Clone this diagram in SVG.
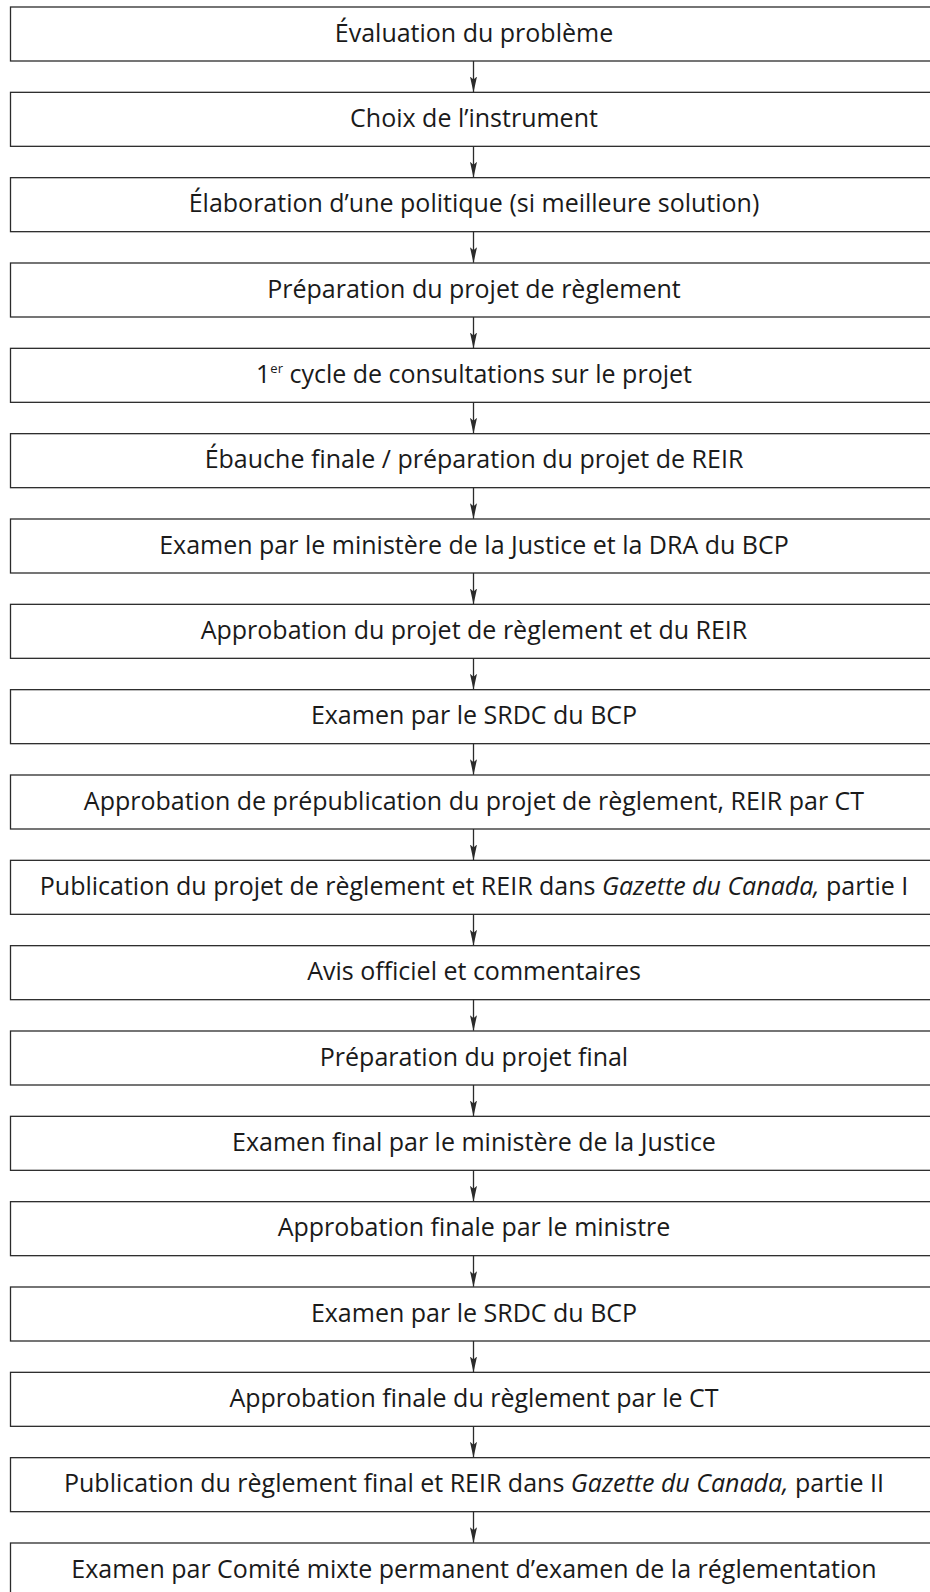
<svg xmlns="http://www.w3.org/2000/svg" width="930" height="1592" viewBox="0 0 930 1592">
<style>
.box{fill:#fff;stroke:#2b2b2b;stroke-width:1.3}
.t{font-family:"Open Sans","Noto Sans",sans-serif;font-size:25px;fill:#1a1a1a;text-anchor:middle}
.c{stroke:#2b2b2b;stroke-width:1.3;fill:none}
</style>
<defs>
<marker id="ah" viewBox="0 0 16 8" refX="15.5" refY="4" markerWidth="16" markerHeight="8" markerUnits="userSpaceOnUse" orient="auto">
<path d="M0,0.5 L3,4 L0,7.5 L16,4 Z" fill="#2b2b2b"/>
</marker>
</defs>
<rect width="930" height="1592" fill="#fff"/>
<g id="n1"><rect class="box" x="10.5" y="7" width="930" height="54"/><text class="t" x="474" y="41.5">Évaluation du problème</text></g>
<g id="n2"><rect class="box" x="10.5" y="92.33" width="930" height="54"/><text class="t" x="474" y="126.83">Choix de l’instrument</text></g>
<g id="n3"><rect class="box" x="10.5" y="177.67" width="930" height="54"/><text class="t" x="474" y="212.17">Élaboration d’une politique (si meilleure solution)</text></g>
<g id="n4"><rect class="box" x="10.5" y="263" width="930" height="54"/><text class="t" x="474" y="297.5">Préparation du projet de règlement</text></g>
<g id="n5"><rect class="box" x="10.5" y="348.33" width="930" height="54"/><text class="t" x="474" y="382.83">1<tspan font-size="13" dy="-10">er</tspan><tspan dy="10"> cycle de consultations sur le projet</tspan></text></g>
<g id="n6"><rect class="box" x="10.5" y="433.67" width="930" height="54"/><text class="t" x="474" y="468.17">Ébauche finale / préparation du projet de REIR</text></g>
<g id="n7"><rect class="box" x="10.5" y="519" width="930" height="54"/><text class="t" x="474" y="553.5">Examen par le ministère de la Justice et la DRA du BCP</text></g>
<g id="n8"><rect class="box" x="10.5" y="604.33" width="930" height="54"/><text class="t" x="474" y="638.83">Approbation du projet de règlement et du REIR</text></g>
<g id="n9"><rect class="box" x="10.5" y="689.67" width="930" height="54"/><text class="t" x="474" y="724.17">Examen par le SRDC du BCP</text></g>
<g id="n10"><rect class="box" x="10.5" y="775" width="930" height="54"/><text class="t" x="474" y="809.5">Approbation de prépublication du projet de règlement, REIR par CT</text></g>
<g id="n11"><rect class="box" x="10.5" y="860.33" width="930" height="54"/><text class="t" x="474" y="894.83">Publication du projet de règlement et REIR dans <tspan font-style="italic">Gazette du Canada,</tspan> partie I</text></g>
<g id="n12"><rect class="box" x="10.5" y="945.67" width="930" height="54"/><text class="t" x="474" y="980.17">Avis officiel et commentaires</text></g>
<g id="n13"><rect class="box" x="10.5" y="1031" width="930" height="54"/><text class="t" x="474" y="1065.5">Préparation du projet final</text></g>
<g id="n14"><rect class="box" x="10.5" y="1116.33" width="930" height="54"/><text class="t" x="474" y="1150.83">Examen final par le ministère de la Justice</text></g>
<g id="n15"><rect class="box" x="10.5" y="1201.67" width="930" height="54"/><text class="t" x="474" y="1236.17">Approbation finale par le ministre</text></g>
<g id="n16"><rect class="box" x="10.5" y="1287" width="930" height="54"/><text class="t" x="474" y="1321.5">Examen par le SRDC du BCP</text></g>
<g id="n17"><rect class="box" x="10.5" y="1372.33" width="930" height="54"/><text class="t" x="474" y="1406.83">Approbation finale du règlement par le CT</text></g>
<g id="n18"><rect class="box" x="10.5" y="1457.67" width="930" height="54"/><text class="t" x="474" y="1492.17">Publication du règlement final et REIR dans <tspan font-style="italic">Gazette du Canada,</tspan> partie II</text></g>
<g id="n19"><rect class="box" x="10.5" y="1543" width="930" height="54"/><text class="t" x="474" y="1577.5">Examen par Comité mixte permanent d’examen de la réglementation</text></g>
<g id="connectors">
<line class="c" x1="473.5" y1="61" x2="473.5" y2="92" marker-end="url(#ah)"/>
<line class="c" x1="473.5" y1="146.33" x2="473.5" y2="177.33" marker-end="url(#ah)"/>
<line class="c" x1="473.5" y1="231.67" x2="473.5" y2="262.67" marker-end="url(#ah)"/>
<line class="c" x1="473.5" y1="317" x2="473.5" y2="348" marker-end="url(#ah)"/>
<line class="c" x1="473.5" y1="402.33" x2="473.5" y2="433.33" marker-end="url(#ah)"/>
<line class="c" x1="473.5" y1="487.67" x2="473.5" y2="518.67" marker-end="url(#ah)"/>
<line class="c" x1="473.5" y1="573" x2="473.5" y2="604" marker-end="url(#ah)"/>
<line class="c" x1="473.5" y1="658.33" x2="473.5" y2="689.33" marker-end="url(#ah)"/>
<line class="c" x1="473.5" y1="743.67" x2="473.5" y2="774.67" marker-end="url(#ah)"/>
<line class="c" x1="473.5" y1="829" x2="473.5" y2="860" marker-end="url(#ah)"/>
<line class="c" x1="473.5" y1="914.33" x2="473.5" y2="945.33" marker-end="url(#ah)"/>
<line class="c" x1="473.5" y1="999.67" x2="473.5" y2="1030.67" marker-end="url(#ah)"/>
<line class="c" x1="473.5" y1="1085" x2="473.5" y2="1116" marker-end="url(#ah)"/>
<line class="c" x1="473.5" y1="1170.33" x2="473.5" y2="1201.33" marker-end="url(#ah)"/>
<line class="c" x1="473.5" y1="1255.67" x2="473.5" y2="1286.67" marker-end="url(#ah)"/>
<line class="c" x1="473.5" y1="1341" x2="473.5" y2="1372" marker-end="url(#ah)"/>
<line class="c" x1="473.5" y1="1426.33" x2="473.5" y2="1457.33" marker-end="url(#ah)"/>
<line class="c" x1="473.5" y1="1511.67" x2="473.5" y2="1542.67" marker-end="url(#ah)"/>
</g>
</svg>
